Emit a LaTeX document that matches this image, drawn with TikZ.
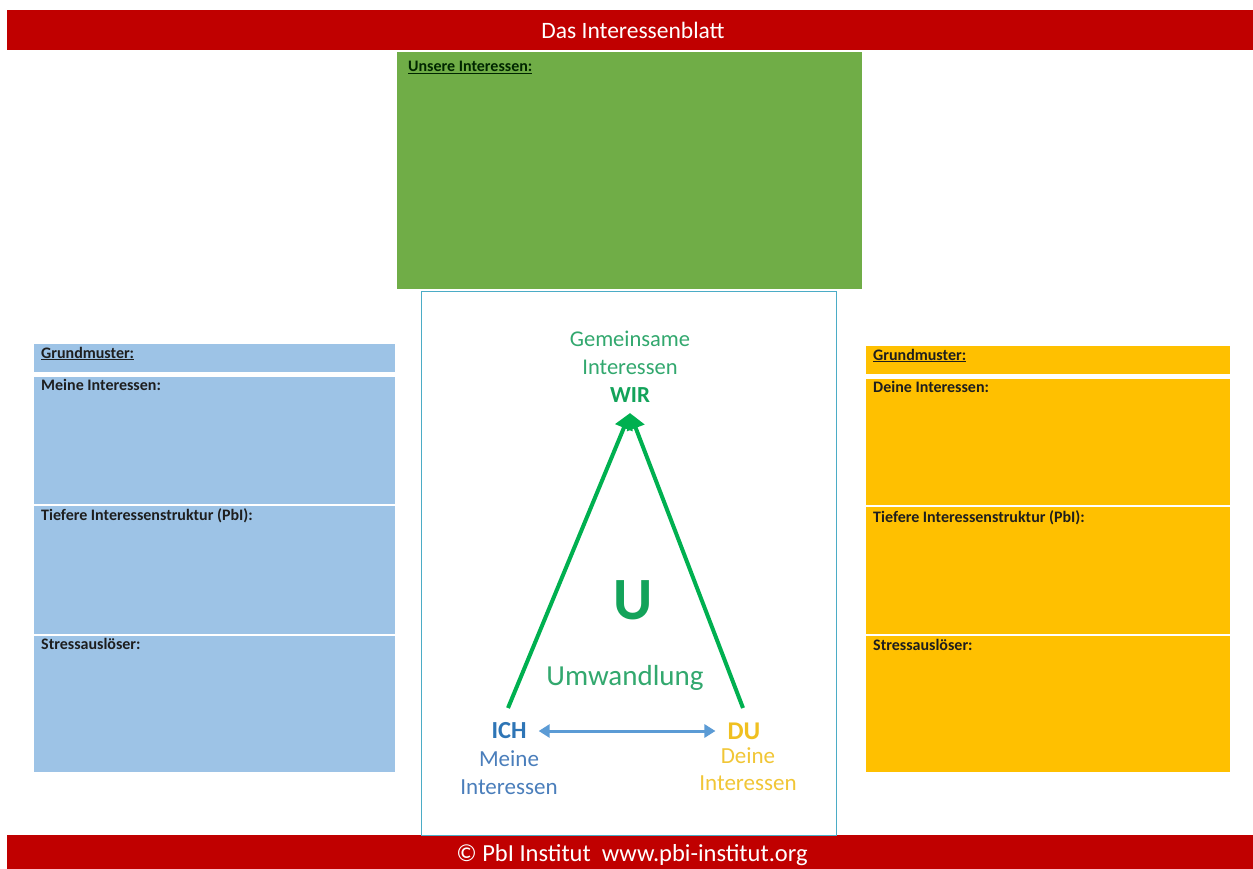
\documentclass[tikz,border=0pt]{standalone}
\usepackage{fontspec}
\setmainfont{Carlito}
\usetikzlibrary{arrows.meta}
\definecolor{pbired}{HTML}{C00000}
\definecolor{boxgreen}{HTML}{70AD47}
\definecolor{boxblue}{HTML}{9DC3E6}
\definecolor{boxgold}{HTML}{FFC000}
\definecolor{frameblue}{HTML}{4BACC6}
\definecolor{arrgreen}{HTML}{00B050}
\definecolor{txtgreen}{HTML}{32A86E}
\definecolor{wirgreen}{HTML}{13A35A}
\definecolor{ichblue}{HTML}{2E75B6}
\definecolor{meineblue}{HTML}{4A7EBB}
\definecolor{arrblue}{HTML}{5B9BD5}
\definecolor{dugold}{HTML}{F0C020}
\definecolor{labeldark}{HTML}{1E1E1E}
\begin{document}
\begin{tikzpicture}[x=1pt,y=-1pt,
  panel/.style={anchor=north west, inner sep=0pt, outer sep=0pt, draw=none},
  boxlabel/.style={anchor=base west, inner sep=0pt, text=labeldark, font=\fontsize{16}{18}\selectfont\bfseries},
  bar/.style={anchor=north west, inner sep=0pt, outer sep=0pt, fill=pbired, draw=none},
  bartext/.style={text=white, inner sep=0pt},
  greentext/.style={text=txtgreen, inner sep=0pt, font=\fontsize{22.5}{24}\selectfont},
  greenarrow/.style={draw=arrgreen, line width=4pt, -{Triangle[length=16pt,width=18pt]}},
  bluearrow/.style={draw=arrblue, line width=3pt, {Triangle[length=11pt,width=13pt]}-{Triangle[length=11pt,width=13pt]}}
]
\useasboundingbox (0,0) rectangle (1253,869);
\fill[white] (0,0) rectangle (1253,869);

% top and bottom bars
\node[bar, minimum width=1246pt, minimum height=40pt] (topbar) at (7,10) {};
\node[bartext, font=\fontsize{23.5}{25}\selectfont] (title) at (633,30) {Das Interessenblatt};
\node[bar, minimum width=1246pt, minimum height=34pt] (botbar) at (7,835) {};
\node[bartext, font=\fontsize{24.5}{26}\selectfont] (footer) at (632,855) {© PbI Institut\ \ www.pbi-institut.org};

% green box
\node[panel, fill=boxgreen, minimum width=465pt, minimum height=237pt] (wirbox) at (397,52) {};
\node[boxlabel, text=black!85!green] (wirlabel) at (408,72) {\underline{Unsere Interessen:}};

% center frame
\node[panel, draw=frameblue, line width=0.8pt, minimum width=415pt, minimum height=544pt] (center) at (421,291) {};

% left column
\node[panel, fill=boxblue, minimum width=361pt, minimum height=28pt] (lgrund) at (34,344) {};
\node[boxlabel] (lgrundl) at (41,358) {\underline{Grundmuster:}};
\node[panel, fill=boxblue, minimum width=361pt, minimum height=127pt] (lmeine) at (34,377) {};
\node[boxlabel] (lmeinel) at (41,390) {Meine Interessen:};
\node[panel, fill=boxblue, minimum width=361pt, minimum height=128pt] (ltief) at (34,506) {};
\node[boxlabel] (ltiefl) at (41,520) {Tiefere Interessenstruktur (PbI):};
\node[panel, fill=boxblue, minimum width=361pt, minimum height=136pt] (lstress) at (34,636) {};
\node[boxlabel] (lstressl) at (41,649) {Stressauslöser:};

% right column
\node[panel, fill=boxgold, minimum width=364pt, minimum height=28pt] (rgrund) at (866,346) {};
\node[boxlabel] (rgrundl) at (873,360) {\underline{Grundmuster:}};
\node[panel, fill=boxgold, minimum width=364pt, minimum height=126pt] (rdeine) at (866,379) {};
\node[boxlabel] (rdeinel) at (873,392) {Deine Interessen:};
\node[panel, fill=boxgold, minimum width=364pt, minimum height=127pt] (rtief) at (866,507) {};
\node[boxlabel] (rtiefl) at (873,522) {Tiefere Interessenstruktur (PbI):};
\node[panel, fill=boxgold, minimum width=364pt, minimum height=136pt] (rstress) at (866,636) {};
\node[boxlabel] (rstressl) at (873,650) {Stressauslöser:};

% triangle texts
\node[greentext] (gem) at (630,339) {Gemeinsame};
\node[greentext] (inter) at (630,367) {Interessen};
\node[greentext, text=wirgreen, font=\fontsize{23}{25}\selectfont\bfseries] (wir) at (630,395) {WIR};
\node[text=wirgreen, inner sep=0pt, font=\fontsize{60}{62}\selectfont\bfseries] (u) at (633,600) {U};
\node[greentext, font=\fontsize{29}{31}\selectfont] (umw) at (625,678) {Umwandlung};

\node[text=ichblue, inner sep=2pt, font=\fontsize{24.5}{26}\selectfont\bfseries] (ich) at (509,731) {ICH};
\node[text=meineblue, inner sep=0pt, font=\fontsize{23}{25}\selectfont] (meine) at (509,759) {Meine};
\node[text=meineblue, inner sep=0pt, font=\fontsize{23}{25}\selectfont] (meineint) at (509,787) {Interessen};
\node[text=dugold, inner sep=2pt, font=\fontsize{25.5}{27}\selectfont\bfseries] (du) at (744,731) {DU};
\node[text=dugold!90!white, inner sep=0pt, font=\fontsize{23}{25}\selectfont] (deine) at (748,756) {Deine};
\node[text=dugold!90!white, inner sep=0pt, font=\fontsize{23}{25}\selectfont] (deineint) at (748,783) {Interessen};

% arrows
\coordinate (apex) at (630,413);
\coordinate (ichbase) at (508,708);
\coordinate (dubase) at (743,708);
\draw[greenarrow] (ichbase) -- (apex);
\draw[greenarrow] (dubase) -- (apex);
\path (ich.east) ++(10,0) coordinate (ichr);
\path (du.west) ++(-10,0) coordinate (dul);
\draw[bluearrow] (ichr) -- (dul);
\end{tikzpicture}
\end{document}
